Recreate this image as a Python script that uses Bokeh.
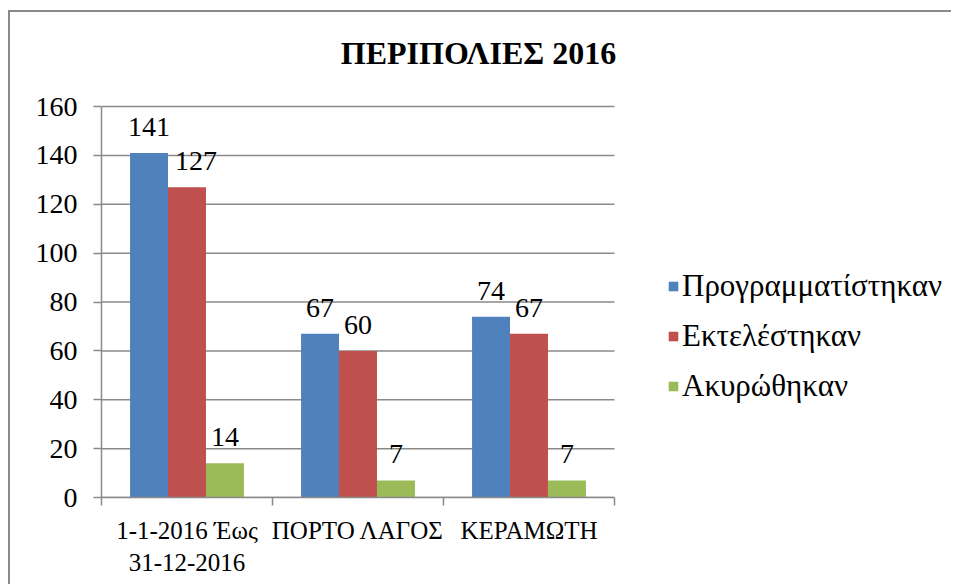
from bokeh.plotting import figure
from bokeh.models import Range1d, FixedTicker, ColumnDataSource, Legend, LegendItem
from bokeh.embed import file_html
from bokeh.resources import INLINE
from bokeh.core.properties import value

# ---- data ----
categories = ["1-1-2016 Έως\n31-12-2016", "ΠΟΡΤΟ ΛΑΓΟΣ", "ΚΕΡΑΜΩΤΗ"]
series_names = ["Προγραμματίστηκαν", "Εκτελέστηκαν", "Ακυρώθηκαν"]
programmed = [141, 67, 74]
executed = [127, 60, 67]
cancelled = [14, 7, 7]
y_ticks = [0, 20, 40, 60, 80, 100, 120, 140, 160]
title_text = "ΠΕΡΙΠΟΛΙΕΣ 2016"

series_values = [programmed, executed, cancelled]
colors = ["#4F81BD", "#C0504D", "#9BBB59"]
FONT = "Liberation Serif"
GRID = "#8a8a8a"

# ---- layout constants (pixels, relative to the canvas) ----
W, H = 943, 574
BL, BT, BB, BR = 91, 0, 89, 0
plot_px = 513                      # width of the bar/grid area
plot_h_px = 391                    # height of the 0..160 area
frame_w = W - BL - BR
frame_h = H - BT - BB
title_cx_px = 377                  # title centre, px right of the y axis
title_base_px = 445                # title baseline, px above the x axis

n = len(categories)
bar_w = 0.222
offsets = [-bar_w, 0.0, bar_w]
centers = [i + 0.5 for i in range(n)]
y_max = y_ticks[-1]
x_end = n * frame_w / plot_px
y_end = y_max * frame_h / plot_h_px

p = figure(width=W, height=H, output_backend="svg", toolbar_location=None,
           x_range=Range1d(0, x_end), y_range=Range1d(0, y_end),
           min_border_left=BL, min_border_right=BR, min_border_top=BT, min_border_bottom=BB)
p.outline_line_color = None
p.background_fill_color = "white"
p.border_fill_color = "white"
p.styles = {"border-left": "2px solid #8a8a8a", "border-top": "2px solid #8a8a8a",
            "margin-top": "10px", "margin-left": "8px"}

# title (drawn as text so it can be centred over the whole chart)
p.text(x=[title_cx_px * n / plot_px], y=[title_base_px * y_max / plot_h_px], text=[title_text],
       text_align="center", text_baseline="alphabetic",
       text_font=value(FONT), text_font_size="32px", text_font_style="bold", text_color="black")

# horizontal gridlines limited to the category area
p.xgrid.grid_line_color = None
p.ygrid.grid_line_color = None
grid_src = ColumnDataSource(dict(y=y_ticks, x0=[0] * len(y_ticks), x1=[n] * len(y_ticks)))
p.segment(x0="x0", x1="x1", y0="y", y1="y", source=grid_src,
          line_color=GRID, line_width=1.5, level="underlay")

# axes
p.yaxis.bounds = (0, y_max)
p.yaxis.ticker = FixedTicker(ticks=y_ticks)
p.xaxis.bounds = (0, n)
p.xaxis.ticker = FixedTicker(ticks=centers, minor_ticks=list(range(n + 1)))
p.xaxis.major_label_overrides = {c: lab for c, lab in zip(centers, categories)}
p.xaxis.major_tick_out = 0
p.xaxis.major_tick_in = 0
p.xaxis.minor_tick_out = 8
p.xaxis.minor_tick_in = 0
p.xaxis.minor_tick_line_color = GRID
p.xaxis.minor_tick_line_width = 1.5
p.xaxis.major_label_standoff = 11
p.xaxis.major_label_text_font_size = "25px"

for ax in (p.xaxis[0], p.yaxis[0]):
    ax.axis_line_color = GRID
    ax.axis_line_width = 1.5
    ax.major_label_text_font = FONT
    ax.major_label_text_color = "black"

p.yaxis.major_label_text_font_size = "28px"
p.yaxis.major_tick_out = 8
p.yaxis.major_tick_in = 0
p.yaxis.major_tick_line_color = GRID
p.yaxis.major_tick_line_width = 1.5
p.yaxis.minor_tick_line_color = None
p.yaxis.major_label_standoff = 16

items = []
for k, (name, vals, col) in enumerate(zip(series_names, series_values, colors)):
    xs = [c + offsets[k] for c in centers]
    src = ColumnDataSource(dict(x=xs, top=vals, lab=[str(v) for v in vals]))
    r = p.vbar(x="x", top="top", width=bar_w, bottom=0, source=src,
               fill_color=col, line_color=None)
    items.append(LegendItem(label=name, renderers=[r]))
    dx = [9 if (k == 1 and i == 0) else 0 for i in range(n)]
    src.data["dx"] = dx
    p.text(x="x", y="top", text="lab", source=src, x_offset="dx", y_offset=-17,
           text_align="center", text_baseline="bottom",
           text_font=value(FONT), text_font_size="28px", text_color="black")

legend = Legend(items=items, location=(566, 93), orientation="vertical",
                label_text_font=FONT, label_text_font_size="31px", label_text_color="black",
                glyph_width=12, glyph_height=12, label_standoff=3, spacing=14,
                padding=0, margin=0, border_line_color=None, background_fill_alpha=0)
p.add_layout(legend, "center")

open("out.html", "w").write(file_html(p, INLINE))
